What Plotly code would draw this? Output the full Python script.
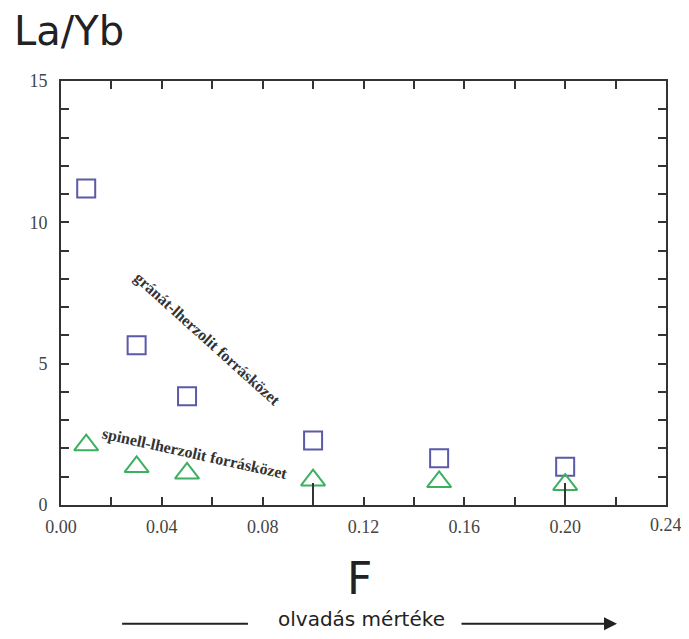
import plotly.graph_objects as go

F = [0.01, 0.03, 0.05, 0.10, 0.15, 0.20]
garnet = [11.2, 5.65, 3.85, 2.28, 1.65, 1.35]
spinel = [2.12, 1.35, 1.12, 0.88, 0.82, 0.72]
xticks = [0.00, 0.04, 0.08, 0.12, 0.16, 0.20, 0.24]
xticklabels = ["0.00", "0.04", "0.08", "0.12", "0.16", "0.20", "0.24"]
yticks = [0, 5, 10, 15]

fig = go.Figure()
fig.add_trace(go.Scatter(x=F, y=garnet, mode="markers", showlegend=False,
                         marker=dict(symbol="square-open", size=18, color="#5a5aa8",
                                     line=dict(width=2))))
fig.add_trace(go.Scatter(x=F, y=spinel, mode="markers", showlegend=False,
                         marker=dict(symbol="triangle-up-open", size=21, color="#3cb060",
                                     line=dict(width=2))))
# long ticks at 0.10 and 0.20 (overlay axis)
fig.add_trace(go.Scatter(x=[0.1, 0.2], y=[None, None], xaxis="x2", showlegend=False,
                         mode="markers"))

tickfont = dict(family="Liberation Serif", size=18, color="#444")
fig.update_layout(
    width=673, height=623,
    margin=dict(l=53, r=15, t=73, b=126, autoexpand=False),
    plot_bgcolor="white", paper_bgcolor="white",
    xaxis=dict(range=[0, 0.24], tickvals=xticks[:-1], ticktext=xticklabels[:-1],
               showline=True, linecolor="#333", linewidth=2, mirror="allticks",
               ticks="inside", ticklen=8, tickwidth=2, tickcolor="#333",
               minor=dict(dtick=0.02, tick0=0, ticks="inside", ticklen=8,
                          tickwidth=2, tickcolor="#333"),
               ticklabelstandoff=4,
               showgrid=False, zeroline=False, tickfont=tickfont, automargin=False),
    xaxis2=dict(range=[0, 0.24], overlaying="x", tickvals=[0.1, 0.2],
                ticktext=["", ""], ticks="inside", ticklen=22, tickwidth=2,
                tickcolor="#333", showgrid=False, zeroline=False, showline=False,
                side="bottom", anchor="y", automargin=False),
    yaxis=dict(range=[0, 15], tickvals=yticks,
               showline=True, linecolor="#333", linewidth=2, mirror="allticks",
               ticks="inside", ticklen=8, tickwidth=2, tickcolor="#333",
               minor=dict(dtick=1, tick0=0, ticks="inside", ticklen=8,
                          tickwidth=2, tickcolor="#333"),
               ticklabelstandoff=8,
               showgrid=False, zeroline=False, tickfont=tickfont, automargin=False),
)

# last x tick label (sits at the right edge, partly cut as in the original)
fig.add_annotation(x=xticks[-1], xref="x", y=0, yref="paper", yshift=-20,
                   xanchor="center", yanchor="middle", text=xticklabels[-1],
                   showarrow=False, font=tickfont)

fig.add_annotation(xref="paper", yref="paper", x=-0.081, y=1.0, yshift=50,
                   xanchor="left", yanchor="middle", text="La/Yb", showarrow=False,
                   font=dict(family="DejaVu Sans", size=40, color="#222"))
fig.add_annotation(xref="paper", yref="paper", x=0.493, y=0, yshift=-73,
                   xanchor="center", yanchor="middle", text="F", showarrow=False,
                   font=dict(family="DejaVu Sans", size=44, color="#222"))
fig.add_annotation(xref="paper", yref="paper", x=0.4975, y=-0.268,
                   xanchor="center", yanchor="middle", text="olvadás mértéke",
                   showarrow=False, font=dict(family="DejaVu Sans", size=20, color="#222"))
# arrow lines
fig.add_shape(type="line", xref="paper", yref="paper", x0=0.101, x1=0.309,
              y0=-0.28, y1=-0.28, line=dict(color="#222", width=2))
fig.add_annotation(xref="paper", yref="paper", x=0.919, y=-0.28, ax=-157, ay=0,
                   axref="pixel", ayref="pixel", showarrow=True,
                   arrowhead=2, arrowsize=1.3, arrowwidth=2, arrowcolor="#222", text="")

ann_font = dict(family="Liberation Serif", size=16, color="#333")
fig.add_annotation(x=0.0578, y=5.87, text="<b>gránát-lherzolit forrásközet</b>",
                   showarrow=False, textangle=42, font=ann_font)
fig.add_annotation(x=0.0532, y=1.8, text="<b>spinell-lherzolit forrásközet</b>",
                   showarrow=False, textangle=12.5, font=ann_font)

fig.write_html("out.html")
